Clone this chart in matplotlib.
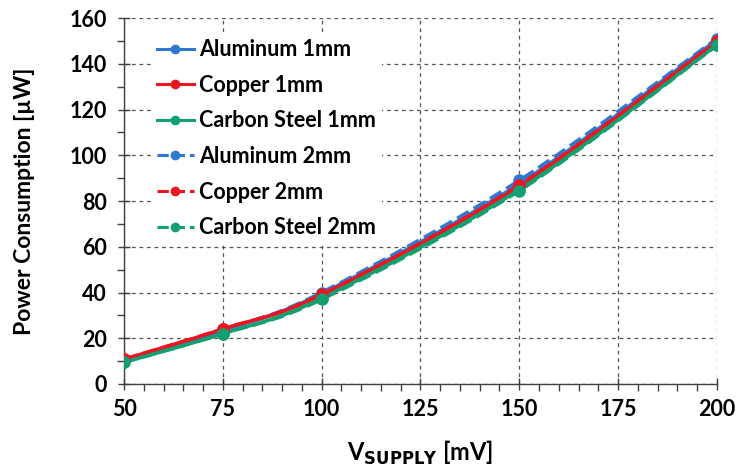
import numpy as np
import matplotlib
matplotlib.use("Agg")
import matplotlib.pyplot as plt
from matplotlib.path import Path
from matplotlib.patches import PathPatch
from matplotlib.lines import Line2D
from matplotlib.ticker import MultipleLocator

plt.rcParams["font.family"] = ["Lato", "DejaVu Sans"]
plt.rcParams["font.weight"] = "bold"

# supply voltage [mV]
v_supply = [50, 75, 100, 150, 200]

# power consumption [uW]
al_1mm = [10.5, 23.5, 39.5, 87.5, 150.5]
cu_1mm = [10.8, 24.0, 39.0, 86.5, 149.5]
cs_1mm = [9.5, 22.0, 37.5, 85.0, 148.2]
al_2mm = [10.5, 23.5, 40.0, 89.0, 151.0]
cu_2mm = [10.8, 24.0, 39.2, 87.0, 149.8]
cs_2mm = [9.5, 22.0, 37.0, 84.5, 148.0]

labels = ["Aluminum 1mm", "Copper 1mm", "Carbon Steel 1mm",
          "Aluminum 2mm", "Copper 2mm", "Carbon Steel 2mm"]
series = [al_1mm, cu_1mm, cs_1mm, al_2mm, cu_2mm, cs_2mm]

blue = "#2E78D2"
red = "#F0141E"
green = "#12A070"
colors = [blue, red, green, blue, red, green]
styles = ["-", "-", "-", "--", "--", "--"]


def smooth_path(x, y):
    # excel style smoothed line: cubic bezier between the data points
    pts = np.column_stack([x, y]).astype(float)
    n = len(pts)
    verts = [pts[0]]
    codes = [Path.MOVETO]
    for i in range(n - 1):
        p0 = pts[max(i - 1, 0)]
        p1 = pts[i]
        p2 = pts[i + 1]
        p3 = pts[min(i + 2, n - 1)]
        c1 = p1 + (p2 - p0) / 6.0
        c2 = p2 - (p3 - p1) / 6.0
        verts += [c1, c2, p2]
        codes += [Path.CURVE4] * 3
    return Path(verts, codes)


fig = plt.figure(figsize=(7.36, 4.68), dpi=100)
ax = fig.add_axes([0.1685, 0.1795, 0.8055, 0.782])

handles = []
for vals, lab, c, ls in zip(series, labels, colors, styles):
    patch = PathPatch(smooth_path(v_supply, vals), facecolor="none",
                      edgecolor=c, lw=2.6, linestyle=ls, zorder=3)
    ax.add_patch(patch)
    ax.plot(v_supply, vals, linestyle="none", marker="o", ms=8,
            color=c, zorder=4)
    handles.append(Line2D([], [], color=c, lw=2.2, linestyle=ls,
                          marker="o", ms=6, label=lab))

ax.set_xlim(50, 200)
ax.set_ylim(0, 160)
ax.xaxis.set_major_locator(MultipleLocator(25))
ax.xaxis.set_minor_locator(MultipleLocator(5))
ax.yaxis.set_major_locator(MultipleLocator(20))
ax.yaxis.set_minor_locator(MultipleLocator(10))

ax.grid(True, which="major", linestyle=(0, (3, 3)), color="#555555", lw=0.9)
ax.set_axisbelow(True)

for s in ["top", "right"]:
    ax.spines[s].set_visible(False)
for s in ["left", "bottom"]:
    ax.spines[s].set_color("#404040")
    ax.spines[s].set_linewidth(1.0)

ax.tick_params(which="major", direction="inout", length=9, width=1.0,
               color="#404040", labelsize=15.5)
ax.tick_params(axis="y", which="major", pad=8)
ax.tick_params(axis="x", which="major", pad=6)
ax.tick_params(which="minor", direction="out", length=5, width=1.0,
               color="#404040")
for t in ax.get_xticklabels() + ax.get_yticklabels():
    t.set_fontweight("bold")

ax.set_ylabel("Power Consumption [µW]", fontsize=16.5, fontweight="bold")
ax.yaxis.set_label_coords(-0.15, 0.5)
ax.set_xlabel(r"V$_{\mathbf{SUPPLY}}$ [mV]", fontsize=17, fontweight="bold")
ax.xaxis.set_label_coords(0.5, -0.15)

leg = ax.legend(handles=handles, loc="upper left",
                bbox_to_anchor=(0.045, 0.96), frameon=True,
                fontsize=15.5, labelspacing=0.68, handlelength=1.7,
                handletextpad=0.25, borderpad=0.3, borderaxespad=0)
leg.get_frame().set_facecolor("white")
leg.get_frame().set_edgecolor("none")
leg.get_frame().set_alpha(1.0)
for t in leg.get_texts():
    t.set_fontweight("bold")

fig.savefig("out.png", dpi=100)
